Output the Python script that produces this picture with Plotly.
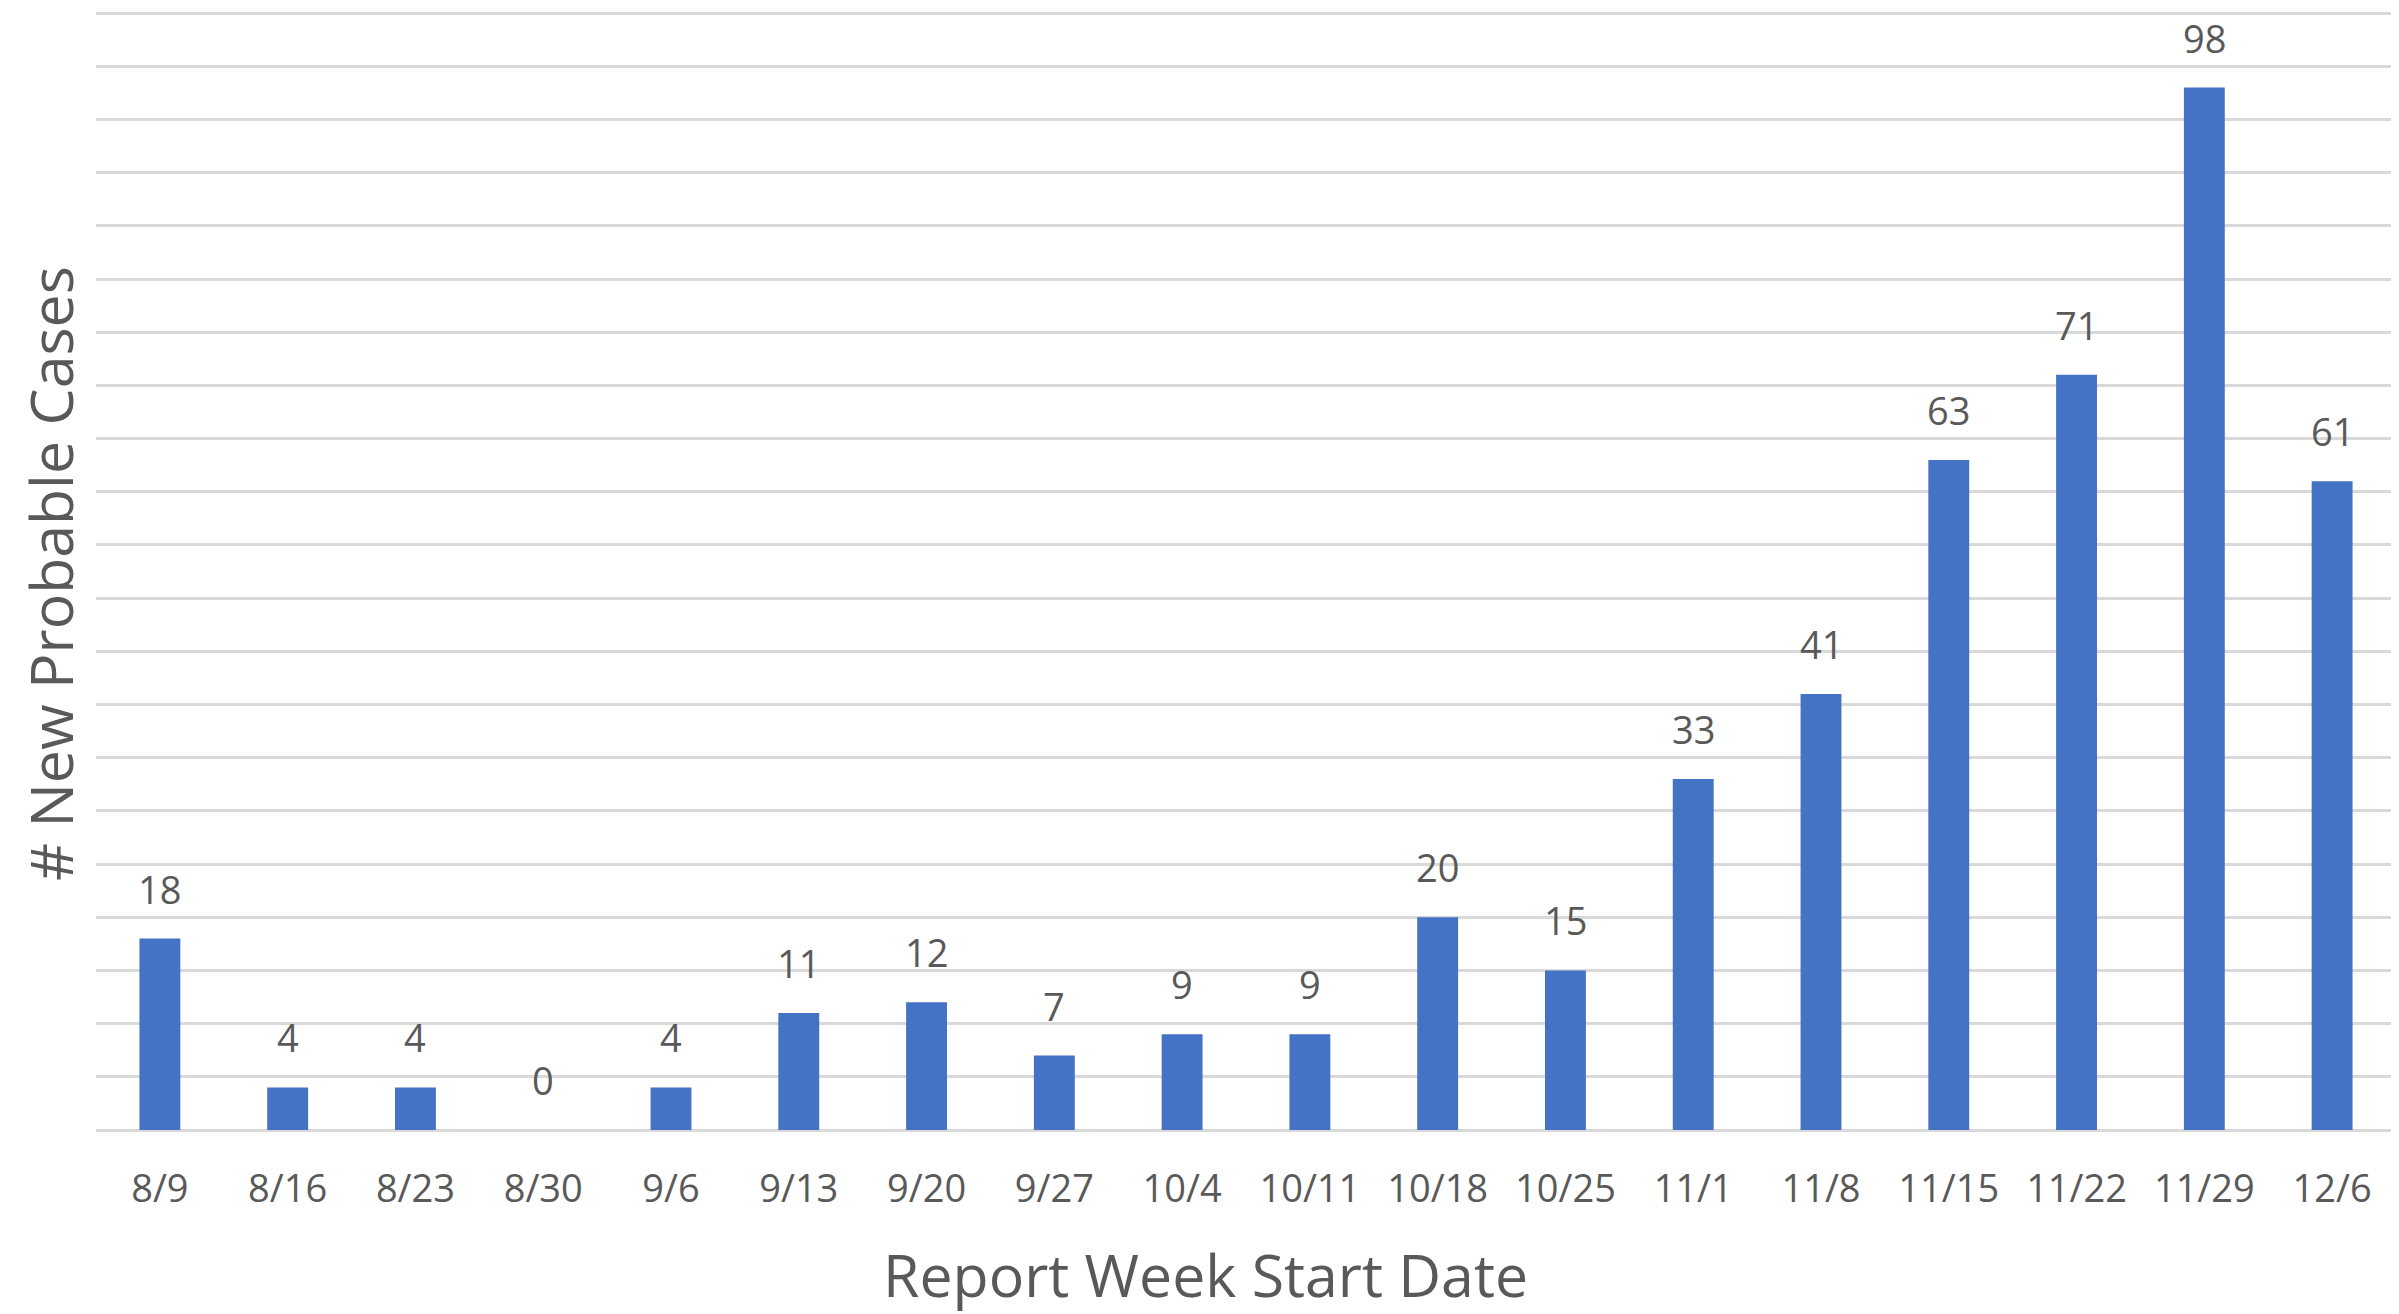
import plotly.graph_objects as go

weeks = ["8/9", "8/16", "8/23", "8/30", "9/6", "9/13", "9/20", "9/27", "10/4", "10/11",
         "10/18", "10/25", "11/1", "11/8", "11/15", "11/22", "11/29", "12/6"]
new_cases = [18, 4, 4, 0, 4, 11, 12, 7, 9, 9, 20, 15, 33, 41, 63, 71, 98, 61]

FONT = "Open Sans"
TXT = "#595959"

# page body has an 8px margin; plot area in page coords x 96-2396, y 11-1130
OFF = 8
W, H = 2399 - OFF, 1314 - OFF
L, R, T = 96 - OFF, 2396 - OFF, 11 - OFF
B = 1130 - OFF
PW, PH = R - L, B - T

fig = go.Figure()
fig.add_trace(go.Bar(x=weeks, y=new_cases, marker=dict(color="#4472C4", line=dict(width=0)),
                     hoverinfo="x+y"))

for w, v in zip(weeks, new_cases):
    fig.add_annotation(x=w, y=v, text=str(v), showarrow=False, yanchor="bottom", yshift=22,
                       font=dict(family=FONT, size=38, color=TXT))

fig.add_annotation(xref="paper", yref="paper", x=(1205 - OFF - L) / PW, y=-(1274 - OFF - B) / PH,
                   text="Report Week Start Date", showarrow=False, xanchor="center", yanchor="middle",
                   font=dict(family=FONT, size=59, color=TXT))
fig.add_annotation(xref="paper", yref="paper", x=-(L - (50 - OFF)) / PW, y=(B - (574 - OFF)) / PH,
                   text="# New Probable Cases", showarrow=False, textangle=-90,
                   xanchor="center", yanchor="middle",
                   font=dict(family=FONT, size=59, color=TXT))

fig.update_layout(
    width=W, height=H,
    margin=dict(l=L, r=W - R, t=T, b=H - B),
    paper_bgcolor="white", plot_bgcolor="white",
    bargap=0.68, showlegend=False,
    xaxis=dict(showgrid=False, showline=False, ticks="", ticklabelstandoff=33,
               tickfont=dict(family=FONT, size=38, color=TXT)),
    yaxis=dict(range=[0, 105.2], tickvals=list(range(0, 106, 5)), showticklabels=False, showgrid=True,
               gridcolor="#D9D9D9", gridwidth=3, zeroline=True, zerolinecolor="#D9D9D9",
               zerolinewidth=3, showline=False),
)

fig.write_html("out.html")
